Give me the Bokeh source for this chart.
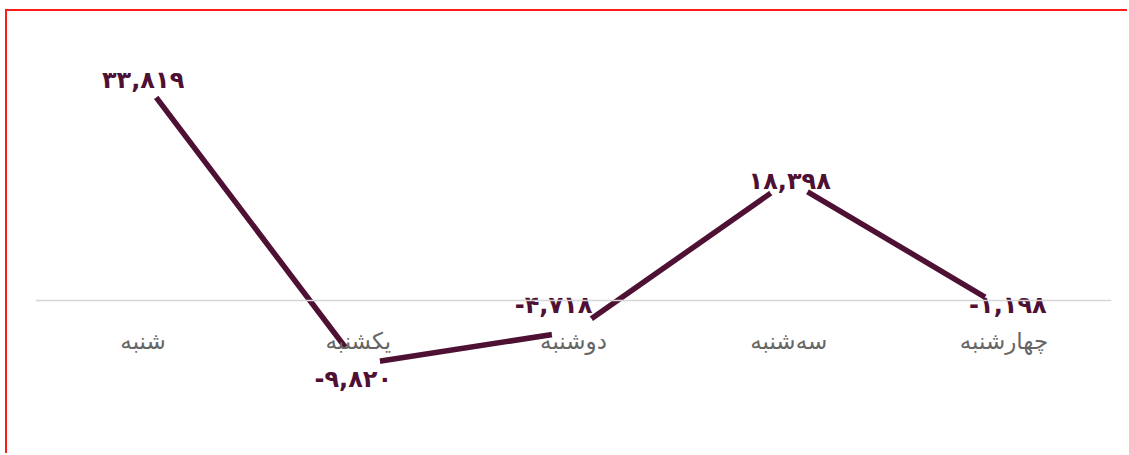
from bokeh.plotting import figure
from bokeh.models import ColumnDataSource, FactorRange, Range1d
from bokeh.core.properties import value
from bokeh.embed import file_html
from bokeh.resources import INLINE

# ---- data ----
days = ["شنبه", "یکشنبه", "دوشنبه", "سه\u200cشنبه", "چهارشنبه"]
values = [33819, -9820, -4718, 18398, -1198]
value_labels = ["۳۳,۸۱۹", "-۹,۸۲۰", "-۴,۷۱۸", "۱۸,۳۹۸", "-۱,۱۹۸"]

# ---- styling (label nudges in screen px) ----
label_dx = [0, -5, -20, 1, 4]
label_dy = [0, 14, -26, 0, -3]

LINE = "#4e1033"

src = ColumnDataSource(dict(day=days, val=values, lab=value_labels,
                            dx=label_dx, dy=label_dy))

p = figure(width=1122, height=444, output_backend="svg", toolbar_location=None,
           x_range=FactorRange(factors=days, range_padding=0),
           y_range=Range1d(-23777, 44333),
           min_border_left=28, min_border_right=18, min_border_top=0, min_border_bottom=0,
           outline_line_color=None, background_fill_color="white",
           styles={"margin-left": "5px", "margin-top": "9px",
                   "border-left": "2px solid #ff1a1a", "border-top": "2px solid #ff1a1a"})

p.xgrid.visible = False
p.ygrid.visible = False
p.yaxis.visible = False

ax = p.xaxis[0]
ax.fixed_location = 0
ax.axis_line_color = "#d6d6d6"
ax.axis_line_width = 1.5
ax.major_tick_line_color = None
ax.minor_tick_line_color = None
ax.major_tick_out = 0
ax.major_label_standoff = 27
ax.major_label_text_font = "DejaVu Sans"
ax.major_label_text_font_size = "23px"
ax.major_label_text_color = "#666666"

p.line(x="day", y="val", source=src, line_color=LINE, line_width=5.5)
p.scatter(x="day", y="val", source=src, size=44, fill_color="white", line_color=None)
p.text(x="day", y="val", text="lab", source=src, x_offset="dx", y_offset="dy",
       text_font=value("DejaVu Sans"), text_font_style="bold", text_font_size="24px",
       text_color=LINE, text_align="center", text_baseline="middle")

open("out.html", "w").write(file_html(p, INLINE))
